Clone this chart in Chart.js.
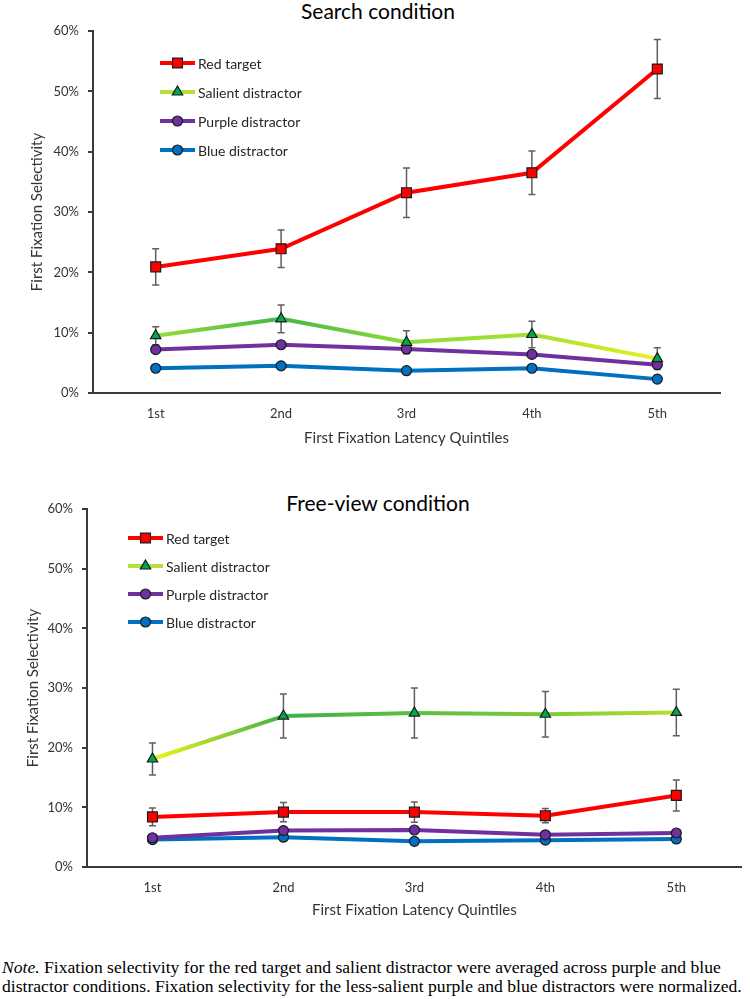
<!DOCTYPE html>
<html>
<head>
<meta charset="utf-8">
<script src="https://cdn.jsdelivr.net/npm/chart.js@4.4.0/dist/chart.umd.min.js"></script>
<style>
  body { margin: 0; background: #fff; }
  #wrap { position: relative; width: 750px; height: 999px; }
  canvas { position: absolute; left: 0; }
  .ttl { position: absolute; left: 228px; width: 300px; text-align: center;
         font: 21px Lato, sans-serif; line-height: 21px; color: #000; }
  #note { position: absolute; left: 2px; top: 958px; white-space: nowrap;
          font: 17.6px "Liberation Serif", serif; line-height: 19px; color: #000; }
</style>
</head>
<body>
<div id="wrap">
  <div class="ttl" style="top:0px">Search condition</div>
  <canvas id="c1" style="top:0px"></canvas>
  <div class="ttl" style="top:492px">Free-view condition</div>
  <canvas id="c2" style="top:470px"></canvas>
  <div id="note"><i>Note.</i> Fixation selectivity for the red target and salient distractor were averaged across purple and blue<br>distractor conditions. Fixation selectivity for the less-salient purple and blue distractors were normalized.</div>
</div>
<script>
  const quintiles = ['1st', '2nd', '3rd', '4th', '5th'];
  const seriesNames = ['Red target', 'Salient distractor', 'Purple distractor', 'Blue distractor'];

  // Search condition (percent)
  const searchRed = [20.9, 23.9, 33.2, 36.5, 53.7];
  const searchRedErr = [3.0, 3.1, 4.1, 3.6, 4.9];
  const searchSalient = [9.5, 12.3, 8.4, 9.7, 5.7];
  const searchSalientErr = [1.5, 2.3, 1.9, 2.2, 1.8];
  const searchPurple = [7.2, 8.0, 7.3, 6.4, 4.7];
  const searchBlue = [4.1, 4.5, 3.7, 4.1, 2.3];

  // Free-view condition (percent)
  const freeRed = [8.4, 9.2, 9.2, 8.6, 12.0];
  const freeRedErr = [1.5, 1.6, 1.7, 1.2, 2.6];
  const freeSalient = [18.1, 25.3, 25.8, 25.6, 25.9];
  const freeSalientErr = [2.7, 3.7, 4.2, 3.8, 3.9];
  const freePurple = [4.9, 6.1, 6.2, 5.4, 5.7];
  const freeBlue = [4.6, 5.0, 4.3, 4.5, 4.7];

  const yTicks = [0, 10, 20, 30, 40, 50, 60];

  const txt = '#333333';
  const axisCol = '#3a3a3a';

  // gradient colours of the salient line at each point
  const searchGreenStops = ['#96dd36', '#45b74a', '#8fdc34', '#a4e132', '#e8f01c'];
  const freeGreenStops = ['#f2f21a', '#3fb149', '#5cc040', '#7cca38', '#b6df2a'];

  function segGradient(canvas, stops) {
    return c => {
      const g = canvas.getContext('2d').createLinearGradient(c.p0.x, 0, c.p1.x, 0);
      g.addColorStop(0, stops[c.p0DataIndex]);
      g.addColorStop(1, stops[c.p1DataIndex]);
      return g;
    };
  }

  const errorBars = {
    id: 'errorBars',
    beforeDatasetsDraw(chart, args, opts) {
      const ctx = chart.ctx;
      const y = chart.scales.y;
      ctx.save();
      ctx.strokeStyle = '#5f5f5f';
      ctx.lineWidth = 1.5;
      chart.data.datasets.forEach((ds, i) => {
        if (!ds.errors) return;
        chart.getDatasetMeta(i).data.forEach((pt, j) => {
          const v = ds.data[j], e = ds.errors[j];
          const top = y.getPixelForValue(v + e), bot = y.getPixelForValue(v - e);
          ctx.beginPath();
          ctx.moveTo(pt.x, top); ctx.lineTo(pt.x, bot);
          ctx.moveTo(pt.x - 3.5, top); ctx.lineTo(pt.x + 3.5, top);
          ctx.moveTo(pt.x - 3.5, bot); ctx.lineTo(pt.x + 3.5, bot);
          ctx.stroke();
        });
      });
      ctx.restore();
    }
  };

  const insideLegend = {
    id: 'insideLegend',
    afterDraw(chart, args, opts) {
      const ctx = chart.ctx;
      const a = chart.chartArea;
      ctx.save();
      chart.data.datasets.forEach((ds, i) => {
        const yy = a.top + opts.top + i * opts.gap;
        const x0 = a.left + opts.left, x1 = x0 + 35;
        ctx.strokeStyle = ds.legendLine;
        ctx.lineWidth = 4;
        ctx.beginPath(); ctx.moveTo(x0, yy); ctx.lineTo(x1, yy); ctx.stroke();
        ctx.fillStyle = ds.pointBackgroundColor;
        ctx.strokeStyle = ds.pointBorderColor;
        ctx.lineWidth = ds.pointBorderWidth;
        Chart.helpers.drawPoint(ctx, { pointStyle: ds.pointStyle, radius: ds.pointRadius, borderWidth: ds.pointBorderWidth, rotation: 0 }, (x0 + x1) / 2, yy);
        ctx.fillStyle = '#262626';
        ctx.font = '14px Lato, sans-serif';
        ctx.textBaseline = 'middle';
        ctx.fillText(ds.label, x1 + 3, yy + 1);
      });
      ctx.restore();
    }
  };

  function makeChart(id, h, vals, errs, stops, lay) {
    const canvas = document.getElementById(id);
    canvas.width = 750; canvas.height = h;
    canvas.style.width = '750px'; canvas.style.height = h + 'px';
    const base = { pointBorderColor: '#1a1a1a', pointBorderWidth: 1.2, borderWidth: 4, tension: 0 };
    return new Chart(canvas, {
      type: 'line',
      data: {
        labels: quintiles,
        datasets: [
          Object.assign({}, base, { label: seriesNames[0], data: vals[0], errors: errs[0], borderColor: '#ff0000', legendLine: '#ff0000',
            pointStyle: 'rect', pointRadius: 7, pointBackgroundColor: '#ff0000' }),
          Object.assign({}, base, { label: seriesNames[1], data: vals[1], errors: errs[1], borderColor: '#92d050', legendLine: '#b4e03a',
            segment: { borderColor: segGradient(canvas, stops) },
            pointStyle: 'triangle', pointRadius: 6, pointBackgroundColor: '#00a650' }),
          Object.assign({}, base, { label: seriesNames[2], data: vals[2], borderColor: '#7030a0', legendLine: '#7030a0',
            pointStyle: 'circle', pointRadius: 5, pointBackgroundColor: '#7030a0' }),
          Object.assign({}, base, { label: seriesNames[3], data: vals[3], borderColor: '#0070c0', legendLine: '#0070c0',
            pointStyle: 'circle', pointRadius: 5, pointBackgroundColor: '#0070c0' })
        ]
      },
      options: {
        responsive: false,
        animation: false,
        layout: { padding: { top: lay.top, right: lay.right, left: 0, bottom: 0 } },
        plugins: {
          legend: { display: false },
          tooltip: { enabled: false },
          insideLegend: lay.legend
        },
        scales: {
          x: {
            offset: true,
            afterFit: s => { s.height = lay.xh; },
            grid: { display: false, drawTicks: false },
            border: { display: true, color: axisCol, width: 2 },
            ticks: { color: txt, font: { family: 'Lato', size: 13 }, padding: 13 },
            title: { display: true, text: 'First Fixation Latency Quintiles', color: txt,
              font: { family: 'Lato', size: 15 }, padding: { top: 0, bottom: lay.xtb } }
          },
          y: {
            min: 0, max: 60,
            afterFit: s => { s.width = lay.yw; },
            afterBuildTicks: s => { s.ticks = yTicks.map(v => ({ value: v })); },
            grid: { drawOnChartArea: false, drawTicks: true, tickLength: 5, color: axisCol, lineWidth: 2 },
            border: { display: true, color: axisCol, width: 2 },
            ticks: { color: txt, font: { family: 'Lato', size: 13 }, padding: 9, callback: v => v + '%' },
            title: { display: true, text: 'First Fixation Selectivity', color: txt,
              font: { family: 'Lato', size: 15 }, padding: { top: lay.ytp, bottom: 0 } }
          }
        }
      },
      plugins: [errorBars, insideLegend]
    });
  }

  makeChart('c1', 460,
    [searchRed, searchSalient, searchPurple, searchBlue],
    [searchRedErr, searchSalientErr, null, null],
    searchGreenStops,
    { top: 31, right: 30, yw: 93, xh: 67, xtb: 13, ytp: 28, legend: { left: 67, top: 32, gap: 29 } });

  makeChart('c2', 455,
    [freeRed, freeSalient, freePurple, freeBlue],
    [freeRedErr, freeSalientErr, null, null],
    freeGreenStops,
    { top: 39, right: 4, yw: 87, xh: 58, xtb: 6, ytp: 24, legend: { left: 41, top: 29, gap: 28 } });
</script>
</body>
</html>
